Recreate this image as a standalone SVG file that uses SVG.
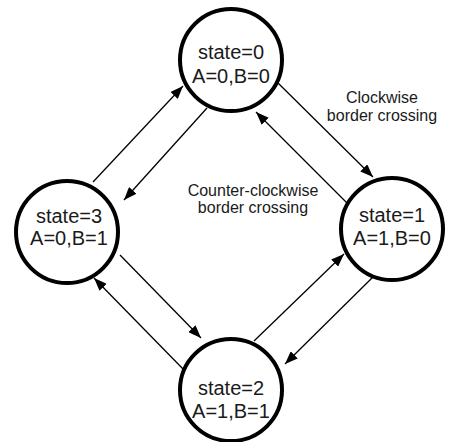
<svg xmlns="http://www.w3.org/2000/svg" width="451" height="442" viewBox="0 0 451 442">
<defs>
<style>
.node circle{fill:#fff;stroke:#000;stroke-width:4}
.node text{font-family:"Liberation Sans",Arial,sans-serif;font-size:20px;fill:#1a1a1a;text-anchor:middle}
.lbl{font-family:"Liberation Sans",Arial,sans-serif;font-size:16px;fill:#1a1a1a;text-anchor:middle}
#edges line{stroke:#000;stroke-width:1.3;marker-end:url(#ah)}
</style>
<marker id="ah" viewBox="0 0 13 10" refX="13" refY="5" markerWidth="13" markerHeight="10" markerUnits="userSpaceOnUse" orient="auto">
<path d="M0,0 L13,5 L0,10 z" fill="#000"/>
</marker>
</defs>
<rect width="451" height="442" fill="#fff"/>
<g id="edges">
<line x1="277" y1="82" x2="373" y2="177"/>
<line x1="347" y1="203" x2="256" y2="112"/>
<line x1="93" y1="182" x2="183" y2="86"/>
<line x1="207" y1="108" x2="124" y2="200"/>
<line x1="120" y1="255" x2="201" y2="338"/>
<line x1="184" y1="370" x2="94" y2="278"/>
<line x1="254" y1="341" x2="344" y2="254"/>
<line x1="375" y1="275" x2="285" y2="364"/>
</g>
<g id="node0" class="node"><circle cx="231" cy="60" r="51"/><text x="231" y="59">state=0</text><text x="231" y="83">A=0,B=0</text></g>
<g id="node1" class="node"><circle cx="392" cy="229" r="51"/><text x="392" y="222">state=1</text><text x="392" y="245">A=1,B=0</text></g>
<g id="node2" class="node"><circle cx="231" cy="390" r="51"/><text x="231" y="395">state=2</text><text x="231" y="418">A=1,B=1</text></g>
<g id="node3" class="node"><circle cx="67" cy="232" r="51"/><text x="69" y="223">state=3</text><text x="69" y="245">A=0,B=1</text></g>
<text class="lbl" x="382" y="103">Clockwise</text>
<text class="lbl" x="382" y="121">border crossing</text>
<text class="lbl" x="253" y="196">Counter-clockwise</text>
<text class="lbl" x="253" y="213">border crossing</text>
</svg>
